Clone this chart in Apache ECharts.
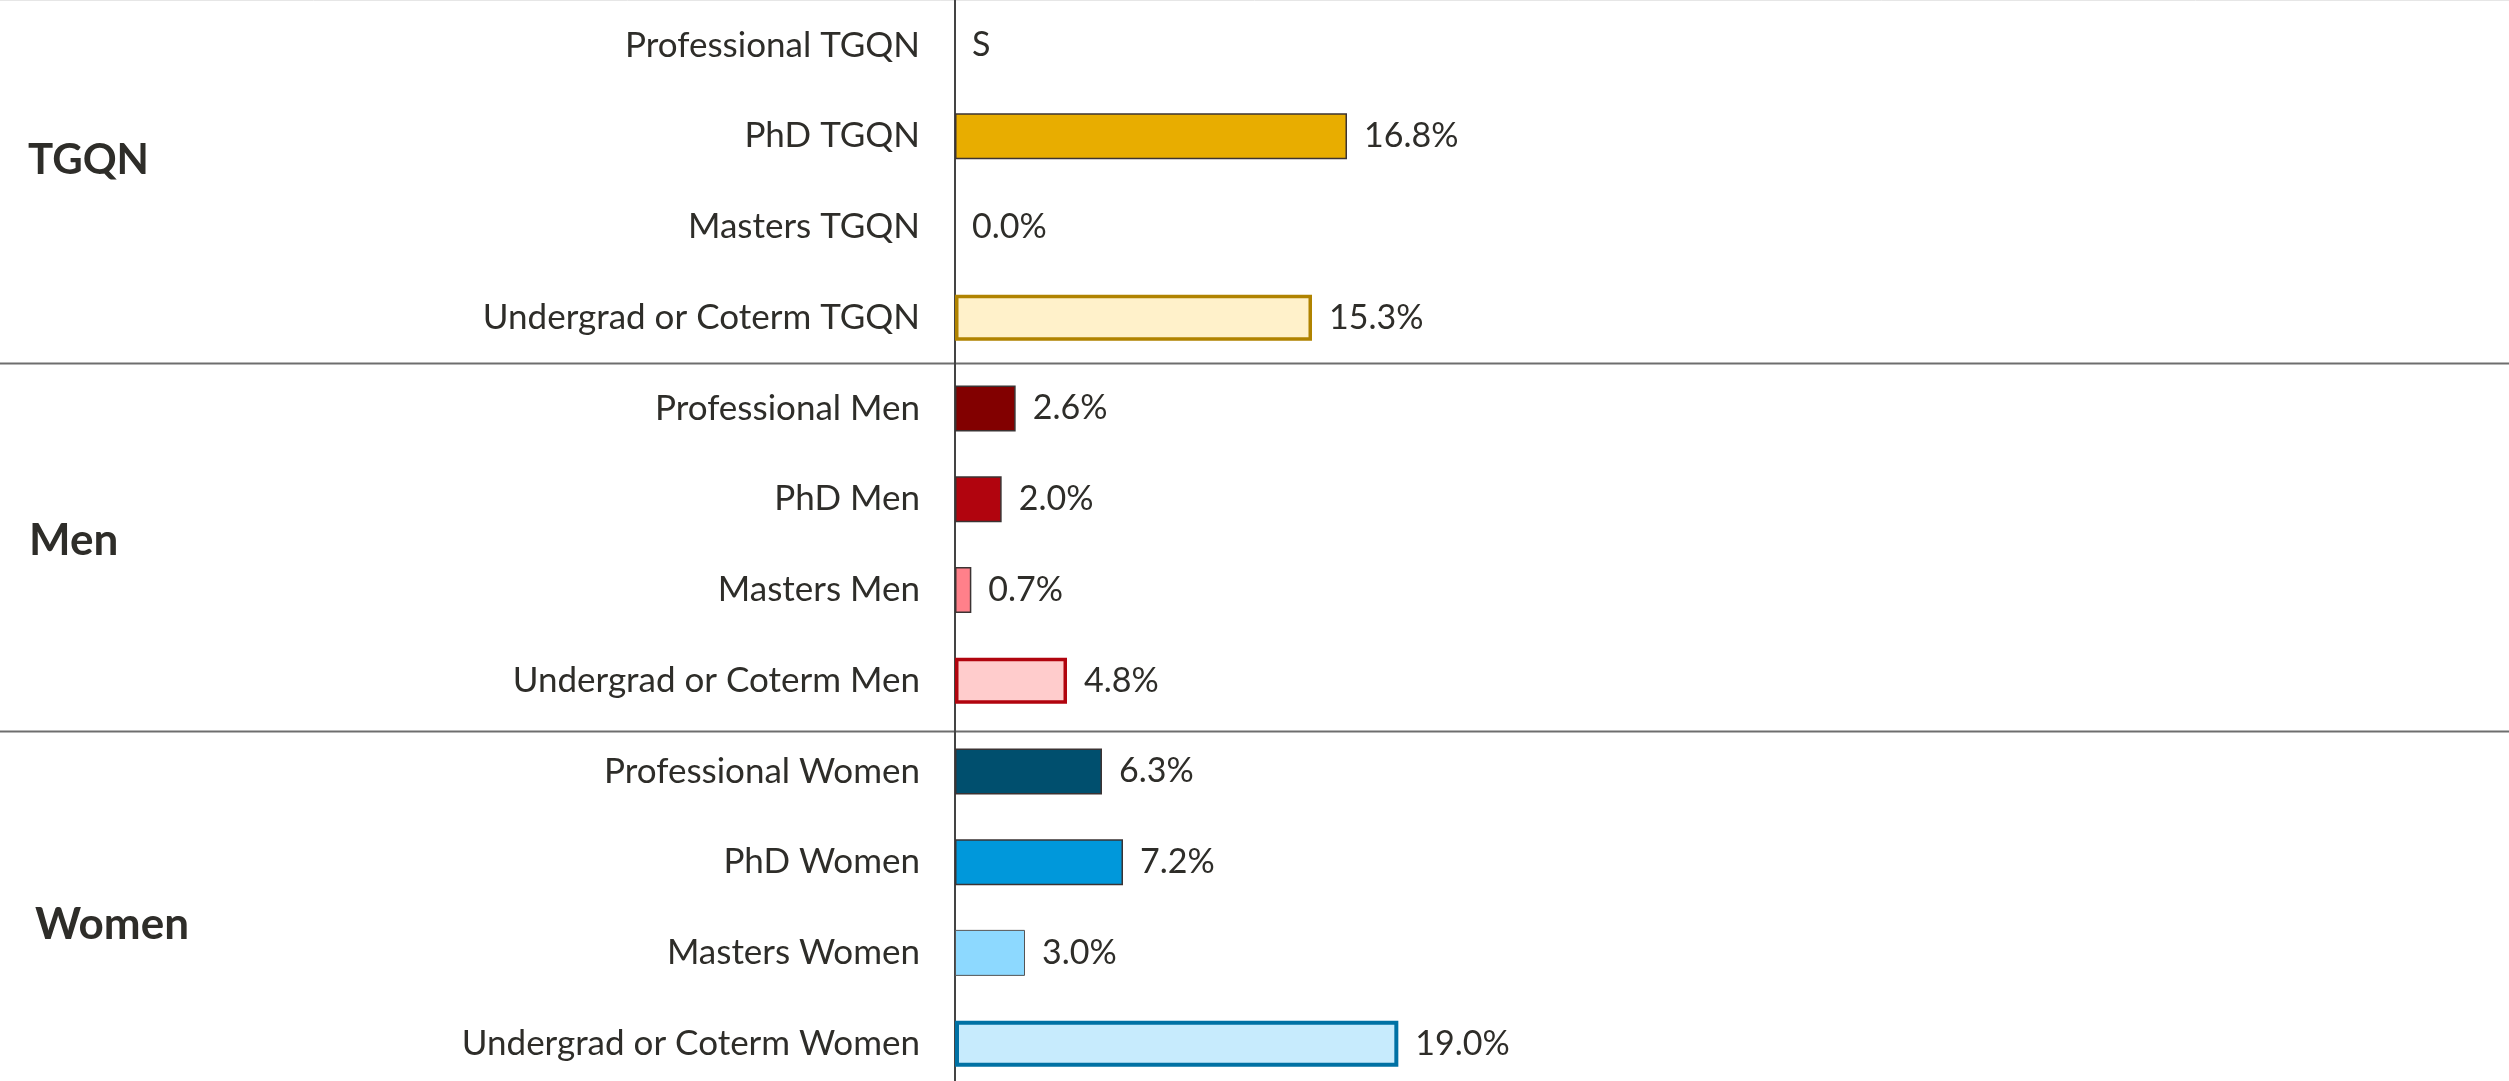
<!DOCTYPE html>
<html>
<head>
<meta charset="utf-8">
<script src="https://cdn.jsdelivr.net/npm/echarts@6/dist/echarts.min.js"></script>
<style>
  html, body { margin: 0; padding: 0; background: #fff; }
  #chart { width: 2509px; height: 1081px; }
</style>
</head>
<body>
<div id="chart"></div>
<script>
// rows, top to bottom
const categories = [
    'Professional TGQN', 'PhD TGQN', 'Masters TGQN', 'Undergrad or Coterm TGQN',
    'Professional Men', 'PhD Men', 'Masters Men', 'Undergrad or Coterm Men',
    'Professional Women', 'PhD Women', 'Masters Women', 'Undergrad or Coterm Women'
];
// null = suppressed, shown as "S"
const values = [null, 16.8, 0.0, 15.3, 2.6, 2.0, 0.7, 4.8, 6.3, 7.2, 3.0, 19.0];

const groups = ['TGQN', 'Men', 'Women'];
const groupEnds = [3, 7];   // last row index of each group (separator goes after)

const fillColors = [
    '#E8AD00', '#E8AD00', '#E8AD00', '#FFF1CA',
    '#820000', '#B1040E', '#FF808A', '#FFCCCC',
    '#004F6E', '#0098DB', '#8DD9FF', '#C7EBFD'
];
const borderColors = [
    '#3b3333', '#3b3333', '#3b3333', '#B08300',
    '#3b3333', '#3b3333', '#3b3333', '#B1040E',
    '#3b3333', '#3b3333', '#555555', '#0071A4'
];
const borderWidths = [0, 1.5, 0, 3.5, 1.5, 1.5, 1.5, 3.5, 1.5, 1.5, 1, 4];

const TEXT = '#2E2D29';
const FONT = 'Lato';

const chart = echarts.init(document.getElementById('chart'));

const barData = values.map((v, i) => ({
    value: v === null ? 0 : v,
    suppressed: v === null,
    itemStyle: {
        color: fillColors[i],
        borderColor: borderColors[i],
        borderWidth: borderWidths[i]
    }
}));

chart.setOption({
    animation: false,
    backgroundColor: '#fff',
    grid: {
        left: 955, right: 0, top: 0, bottom: -8,
        containLabel: false, outerBoundsMode: 'none'
    },
    xAxis: {
        type: 'value', min: 0, max: 66.6, show: false,
        splitLine: { show: false }
    },
    yAxis: {
        type: 'category',
        inverse: true,
        data: categories,
        axisLine: { show: true, lineStyle: { color: '#444', width: 2 } },
        axisTick: { show: false },
        axisLabel: { fontSize: 35, color: TEXT, fontFamily: FONT, margin: 35 }
    },
    series: [{
        type: 'bar',
        data: barData,
        barWidth: 46,
        label: {
            show: true,
            position: 'right',
            distance: 17,
            fontSize: 34,
            color: TEXT,
            fontFamily: FONT,
            formatter: p => p.data.suppressed ? 'S' : p.value.toFixed(1) + '%'
        }
    }]
});

// separators between groups + group headings
function drawExtras() {
    const rowY = i => chart.convertToPixel({ yAxisIndex: 0 }, categories[i]);
    const els = [{
        type: 'line', shape: { x1: 0, y1: 0.5, x2: 2509, y2: 0.5 },
        style: { stroke: '#e6e6e6', lineWidth: 1 }
    }];
    const sepNudge = [0, 5];
    groupEnds.forEach((e, k) => {
        const y = Math.round((rowY(e) + rowY(e + 1)) / 2) + sepNudge[k] + 0.5;
        els.push({
            type: 'line', shape: { x1: 0, y1: y, x2: 2509, y2: y },
            style: { stroke: '#6e6e6e', lineWidth: 2 }
        });
    });
    const groupLabelPos = [[28, 160], [29, 541], [35, 925]];
    groups.forEach((g, i) => {
        els.push({
            type: 'text', x: groupLabelPos[i][0], y: groupLabelPos[i][1],
            style: {
                text: g, fill: TEXT, fontSize: i === 0 ? 42 : 44, fontWeight: 'bold',
                fontFamily: FONT, verticalAlign: 'middle', align: 'left'
            }
        });
    });
    chart.setOption({ graphic: els });
}
drawExtras();

window.onresize = function () {
    chart.resize();
    drawExtras();
};
</script>
</body>
</html>
